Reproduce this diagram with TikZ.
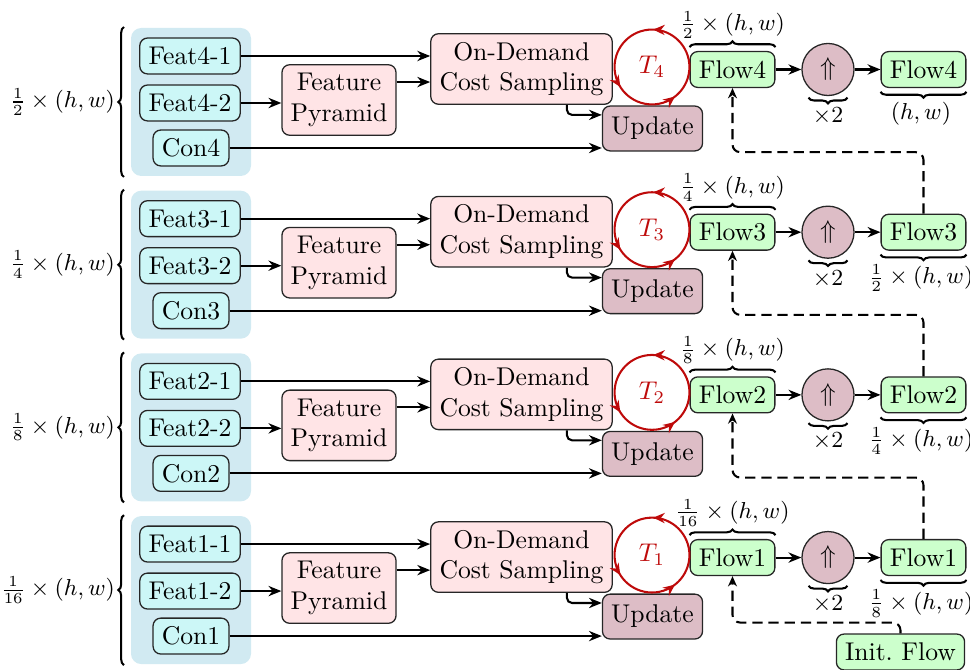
\documentclass[tikz,border=0pt]{standalone}
\usetikzlibrary{arrows.meta,decorations.pathreplacing,decorations.markings,calc}
\definecolor{bgblue}{RGB}{209,234,242}
\definecolor{featfill}{RGB}{204,247,247}
\definecolor{pinkfill}{RGB}{255,228,230}
\definecolor{updfill}{RGB}{221,189,198}
\definecolor{flowfill}{RGB}{204,255,204}
\definecolor{loopred}{RGB}{190,10,10}
\begin{document}
\begin{tikzpicture}[x=0.39pt,y=-0.39pt,
  box/.style={draw=black!85, line width=0.5pt, rounded corners=3pt,
    inner xsep=3.4pt, inner ysep=3pt, align=center},
  featbox/.style={box, fill=featfill, minimum height=14pt},
  pinkbox/.style={box, fill=pinkfill, minimum height=27.5pt},
  updbox/.style={box, fill=updfill, minimum height=17.5pt},
  flowbox/.style={box, fill=flowfill, minimum height=14pt},
  upnode/.style={circle, draw=black!85, line width=0.5pt, fill=updfill,
    minimum size=20.3pt, inner sep=0pt},
  link/.style={-{Stealth[length=5pt,width=4pt]}, thick},
  feedback/.style={-{Stealth[length=4pt,width=3.5pt]}, thick,
    dash pattern=on 4pt off 2.3pt, rounded corners=3pt},
  brace/.style={decorate, decoration={brace, amplitude=2.2pt}, thick},
  dimlabel/.style={font=\fontsize{8.6}{10}\selectfont, inner sep=1pt},
  looparrows/.style={postaction={decorate}, decoration={markings,
    mark=at position 0.245 with {\arrow{Stealth[length=4.5pt,width=4pt]}},
    mark=at position 0.59 with {\arrow{Stealth[length=4.5pt,width=4pt]}},
    mark=at position 0.855 with {\arrow{Stealth[length=4.5pt,width=4pt]}}}},
]
\useasboundingbox (0,0) rectangle (970,670);

\foreach \i/\inl/\outl in {
    4/{\frac{1}{2}\times(h,w)}/{(h,w)},
    3/{\frac{1}{4}\times(h,w)}/{\frac{1}{2}\times(h,w)},
    2/{\frac{1}{8}\times(h,w)}/{\frac{1}{4}\times(h,w)},
    1/{\frac{1}{16}\times(h,w)}/{\frac{1}{8}\times(h,w)}} {
  \pgfmathsetmacro\dy{-(4-\i)*63.45}
  \begin{scope}[yshift=\dy pt]
    % input group of one pyramid level
    \fill[bgblue, rounded corners=4pt] (131,28) rectangle (251,176);
    \draw[brace] (124,177) -- (124,27);
    \node[dimlabel, anchor=east] (res\i) at (118,102) {$\inl$};
    \node[featbox] (fa\i) at (190,56) {Feat\i-1};
    \node[featbox] (fb\i) at (190,103) {Feat\i-2};
    \node[featbox] (con\i) at (191,148) {Con\i};
    % processing blocks
    \node[pinkbox] (fp\i) at (339,100) {Feature\\Pyramid};
    \node[pinkbox] (od\i) at (521.5,69) {On-Demand\\Cost Sampling};
    \node[updbox] (upd\i) at (652.5,128.5) {Update};
    \node[flowbox] (fl\i) at (732.5,69.5) {Flow\i};
    \node[upnode] (up\i) at (828,69.5) {$\Uparrow$};
    \node[flowbox] (fr\i) at (923.5,69.5) {Flow\i};
    % iteration loop
    \coordinate (cc\i) at (652,67);
    \draw[loopred, thick, looparrows] (cc\i) circle[radius=14.6pt];
    \node[text=loopred] (t\i) at (cc\i) {$T_\i$};
    % connections
    \draw[link] (fa\i.east) -- (fa\i.east -| od\i.west);
    \draw[link] (fb\i.east) -- (fb\i.east -| fp\i.west);
    \draw[link] ([yshift=7pt]fp\i.east) -- ([yshift=7pt]fp\i.east -| od\i.west);
    \draw[link] (con\i.east) -- (con\i.east -| upd\i.west);
    \draw[link, rounded corners=2pt] ([xshift=17.7pt]od\i.south) |- ([yshift=5.3pt]upd\i.west);
    \draw[link] (fl\i) -- (up\i);
    \draw[link] (up\i) -- (fr\i);
    % resolution annotations
    \draw[brace] ([yshift=1.5pt]fl\i.north west) -- ([yshift=1.5pt]fl\i.north east)
      node[midway, above=2pt, dimlabel] (la\i) {$\inl$};
    \draw[brace] ([xshift=7.6pt,yshift=-0.6pt]up\i.south) -- ([xshift=-7.6pt,yshift=-0.6pt]up\i.south)
      node[midway, below=2.5pt, dimlabel] (lx\i) {$\times 2$};
    \draw[brace] ([yshift=-1.5pt]fr\i.south east) -- ([yshift=-1.5pt]fr\i.south west)
      node[midway, below=2.5pt, xshift=-1pt, dimlabel] (lb\i) {$\outl$};
  \end{scope}
}

% upsampled flow feeds the next finer level
\foreach \i/\j in {1/2,2/3,3/4}
  \draw[feedback] (fr\i.north) |- ([yshift=-25pt]fl\j.south) -- (fl\j.south);

\node[flowbox] (init) at (900.5,652) {Init.\ Flow};
\draw[feedback] (init.north) |- ([yshift=-18.1pt]fl1.south) -- (fl1.south);
\end{tikzpicture}
\end{document}
